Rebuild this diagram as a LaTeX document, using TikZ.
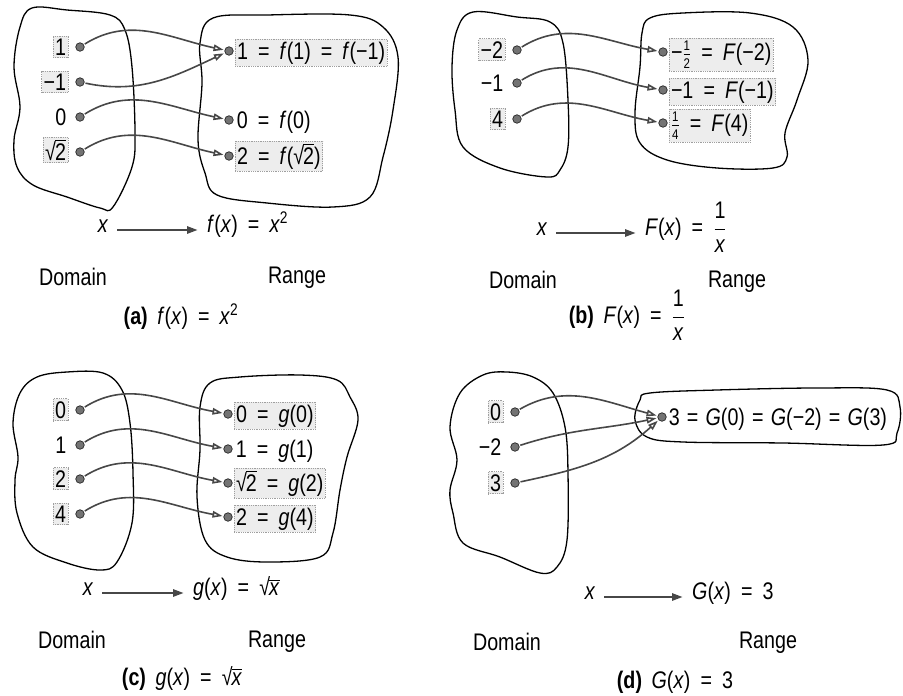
\documentclass[tikz,border=0pt]{standalone}
\usepackage{fontspec}
\setmainfont{Liberation Sans}[FakeStretch=0.82]
\usetikzlibrary{arrows.meta}
\newcommand\vi[1]{\textit{#1}}
\newcommand\eqs{\hspace{0.42em}=\hspace{0.42em}}
\newcommand\eqn{\hspace{0.3em}=\hspace{0.3em}}
\newcommand\mn{−}
\newcommand\rt[1]{\mbox{√\kern-0.04em\setbox0\hbox{#1}\rlap{\rule[\dimexpr\ht0+0.08em\relax]{\wd0}{0.06em}}\box0}}
\newcommand\sfr[2]{\ensuremath{{\mbox{\fontsize{14}{14}\selectfont #1}\over\mbox{\fontsize{14}{14}\selectfont #2}}}}
\newcommand\bfr[2]{\ensuremath{{\displaystyle{\mbox{#1}\over\mbox{#2}}}}}
\tikzset{
  blob/.style={draw=black, line width=1.3pt},
  dot/.style={circle, fill=black!55, draw=black!85, line width=0.7pt, inner sep=0pt, minimum size=8.5pt},
  hl/.style={draw=gray!75, densely dotted, line width=0.8pt, fill=gray!14, inner ysep=2.5pt},
  lbl/.style={inner sep=2pt},
  map/.style={draw=black!72, line width=1.6pt, -{Triangle[open, length=10pt, width=6.5pt]}, shorten >=1pt, shorten <=1pt},
  bigmap/.style={draw=black!72, line width=2.6pt, -{Triangle[open, length=11pt, width=7pt]}, shorten <=7pt, shorten >=7pt},
  dl/.style={lbl, anchor=base east},
  rl/.style={lbl, anchor=base west},
}
\begin{document}
\begin{tikzpicture}[x=1pt, y=-1pt, font=\fontsize{24}{28}\selectfont]
\useasboundingbox (0,0) rectangle (903,696);

% ================= (a) =================
\draw[blob] plot[smooth cycle, tension=0.6] coordinates {(32,8) (67,10) (110,15) (125,30) (132,67) (135,133) (132,167) (113,207) (100,208) (67,197) (33,185) (17,167) (14,140) (20,107) (14,67) (20,27)};
\draw[blob] plot[smooth cycle, tension=0.6] coordinates {(213,18) (267,15) (350,15) (383,27) (398,57) (393,110) (383,157) (370,197) (333,207) (267,203) (217,195) (205,173) (198,140) (202,83) (200,43)};
\node[dot] (da1) at (80,47) {};
\node[dot] (da2) at (80,82) {};
\node[dot] (da3) at (80,117) {};
\node[dot] (da4) at (80,152) {};
\node[dot] (ra1) at (229,51) {};
\node[dot] (ra2) at (229,120) {};
\node[dot] (ra3) at (229,156) {};
\node[dl,hl] (la1) at ([xshift=-7pt,yshift=-8pt]da1.west) {1};
\node[dl,hl] (la2) at ([xshift=-7pt,yshift=-8pt]da2.west) {\mn1};
\node[dl] (la3) at ([xshift=-7pt,yshift=-8pt]da3.west) {0};
\node[dl,hl] (la4) at ([xshift=-7pt,yshift=-8pt]da4.west) {\rt{2}};
\node[rl,hl] (ma1) at ([xshift=1pt,yshift=-8pt]ra1.east) {1\eqs\vi{f}(1)\eqs\vi{f}(\mn1)};
\node[rl] (ma2) at ([xshift=1pt,yshift=-8pt]ra2.east) {0\eqs\vi{f}(0)};
\node[rl,hl] (ma3) at ([xshift=1pt,yshift=-8pt]ra3.east) {2\eqs\vi{f}(\rt{2})};
\draw[map] (da1) to[out=32,in=168] (ra1);
\draw[map] (da2) to[out=-12,in=205] (ra1);
\draw[map] (da3) to[out=32,in=168] (ra2);
\draw[map] (da4) to[out=32,in=168] (ra3);
\node[lbl, anchor=mid] (xa) at (103,230) {\vi{x}};
\node[lbl, anchor=mid west] (fa) at (205,230) {\vi{f}(\vi{x})\eqs\vi{x}\textsuperscript{2}};
\draw[bigmap] (xa.mid east) -- (fa.mid west);
\node[lbl] (doma) at (73,277) {Domain};
\node[lbl] (rana) at (297,278) {Range};
\node[lbl] (capa) at (181,317) {\textbf{(a)}\hspace{0.4em}\vi{f}(\vi{x})\eqs\vi{x}\textsuperscript{2}};

% ================= (b) =================
\draw[blob] plot[smooth cycle, tension=0.6] coordinates {(473,12) (517,17) (550,22) (563,43) (568,100) (568,147) (560,170) (547,177) (500,168) (463,147) (455,110) (452,67) (457,30)};
\draw[blob] plot[smooth cycle, tension=0.6] coordinates {(650,18) (683,13) (750,13) (793,27) (808,60) (797,100) (785,133) (787,157) (773,168) (717,168) (667,160) (640,143) (635,113) (640,67) (642,33)};
\node[dot] (db1) at (517,50) {};
\node[dot] (db2) at (517,83) {};
\node[dot] (db3) at (517,119) {};
\node[dot] (rb1) at (663,52) {};
\node[dot] (rb2) at (663,90) {};
\node[dot] (rb3) at (663,123) {};
\node[dl,hl] (lb1) at ([xshift=-7pt,yshift=-8pt]db1.west) {\mn2};
\node[dl] (lb2) at ([xshift=-7pt,yshift=-8pt]db2.west) {\mn1};
\node[dl,hl] (lb3) at ([xshift=-7pt,yshift=-8pt]db3.west) {4};
\node[rl,hl] (mb1) at ([xshift=1pt,yshift=-8pt]rb1.east) {\mn\sfr{1}{2}\eqs\vi{F}(\mn2)};
\node[rl,hl] (mb2) at ([xshift=1pt,yshift=-8pt]rb2.east) {\mn1\eqs\vi{F}(\mn1)};
\node[rl,hl] (mb3) at ([xshift=1pt,yshift=-8pt]rb3.east) {\sfr{1}{4}\eqs\vi{F}(4)};
\draw[map] (db1) to[out=32,in=170] (rb1);
\draw[map] (db2) to[out=32,in=170] (rb2);
\draw[map] (db3) to[out=32,in=170] (rb3);
\node[lbl, anchor=mid] (xb) at (542,233) {\vi{x}};
\node[lbl, anchor=mid west] (fb) at (643,233) {\vi{F}(\vi{x})\eqs\bfr{1}{\vi{x}}};
\draw[bigmap] (xb.mid east) -- (fb.mid west);
\node[lbl] (domb) at (523,280) {Domain};
\node[lbl] (ranb) at (737,282) {Range};
\node[lbl] (capb) at (627,315) {\textbf{(b)}\hspace{0.4em}\vi{F}(\vi{x})\eqs\bfr{1}{\vi{x}}};

% ================= (c) =================
\draw[blob] plot[smooth cycle, tension=0.6] coordinates {(37,377) (67,372) (103,373) (122,390) (130,423) (133,473) (132,523) (117,562) (100,570) (67,563) (33,547) (17,513) (15,480) (18,457) (13,423) (20,393)};
\draw[blob] plot[smooth cycle, tension=0.6] coordinates {(210,383) (240,377) (300,375) (337,380) (350,397) (358,420) (347,457) (340,490) (333,533) (320,557) (267,562) (227,557) (205,540) (197,497) (200,450) (200,407)};
\node[dot] (dc1) at (80,410) {};
\node[dot] (dc2) at (80,445) {};
\node[dot] (dc3) at (80,479) {};
\node[dot] (dc4) at (80,514) {};
\node[dot] (rc1) at (228,414) {};
\node[dot] (rc2) at (228,449) {};
\node[dot] (rc3) at (228,483) {};
\node[dot] (rc4) at (228,517) {};
\node[dl,hl] (lc1) at ([xshift=-7pt,yshift=-8pt]dc1.west) {0};
\node[dl] (lc2) at ([xshift=-7pt,yshift=-8pt]dc2.west) {1};
\node[dl,hl] (lc3) at ([xshift=-7pt,yshift=-8pt]dc3.west) {2};
\node[dl,hl] (lc4) at ([xshift=-7pt,yshift=-8pt]dc4.west) {4};
\node[rl,hl] (mc1) at ([xshift=1pt,yshift=-8pt]rc1.east) {0\eqs\vi{g}(0)};
\node[rl] (mc2) at ([xshift=1pt,yshift=-8pt]rc2.east) {1\eqs\vi{g}(1)};
\node[rl,hl] (mc3) at ([xshift=1pt,yshift=-8pt]rc3.east) {\rt{2}\eqs\vi{g}(2)};
\node[rl,hl] (mc4) at ([xshift=1pt,yshift=-8pt]rc4.east) {2\eqs\vi{g}(4)};
\draw[map] (dc1) to[out=32,in=170] (rc1);
\draw[map] (dc2) to[out=32,in=170] (rc2);
\draw[map] (dc3) to[out=32,in=170] (rc3);
\draw[map] (dc4) to[out=32,in=170] (rc4);
\node[lbl, anchor=mid] (xc) at (88,593) {\vi{x}};
\node[lbl, anchor=mid west] (fc) at (191,593) {\vi{g}(\vi{x})\eqs\rt{\vi{x}}};
\draw[bigmap] (xc.mid east) -- (fc.mid west);
\node[lbl] (domc) at (72,640) {Domain};
\node[lbl] (ranc) at (277,642) {Range};
\node[lbl] (capc) at (182,678) {\textbf{(c)}\hspace{0.4em}\vi{g}(\vi{x})\eqs\rt{\vi{x}}};

% ================= (d) =================
\draw[blob] plot[smooth cycle, tension=0.6] coordinates {(483,375) (507,372) (533,377) (553,393) (565,427) (568,473) (567,540) (557,567) (540,573) (500,557) (463,543) (453,513) (450,490) (457,460) (450,427) (460,393)};
\draw[blob] plot[smooth cycle, tension=0.6] coordinates {(650,393) (717,390) (817,388) (887,390) (900,407) (897,433) (883,445) (783,443) (683,442) (647,437) (635,420) (640,400)};
\node[dot] (dd1) at (515,412) {};
\node[dot] (dd2) at (515,447) {};
\node[dot] (dd3) at (515,483) {};
\node[dot] (rd1) at (662,417) {};
\node[dl,hl] (ld1) at ([xshift=-7pt,yshift=-8pt]dd1.west) {0};
\node[dl] (ld2) at ([xshift=-7pt,yshift=-8pt]dd2.west) {\mn2};
\node[dl,hl] (ld3) at ([xshift=-7pt,yshift=-8pt]dd3.west) {3};
\node[rl] (md1) at ([xshift=0pt,yshift=-8pt]rd1.east) {3\eqn\vi{G}(0)\eqn\vi{G}(\mn2)\eqn\vi{G}(3)};
\draw[map] (dd1) to[out=30,in=165] (rd1);
\draw[map] (dd2) to[out=18,in=192] (rd1);
\draw[map] (dd3) to[out=12,in=222] (rd1);
\node[lbl, anchor=mid] (xd) at (590,597) {\vi{x}};
\node[lbl, anchor=mid west] (fd) at (690,597) {\vi{G}(\vi{x})\eqs3};
\draw[bigmap] (xd.mid east) -- (fd.mid west);
\node[lbl] (domd) at (507,642) {Domain};
\node[lbl] (rand) at (768,643) {Range};
\node[lbl] (capd) at (675,682) {\textbf{(d)}\hspace{0.4em}\vi{G}(\vi{x})\eqs3};
\end{tikzpicture}
\end{document}
